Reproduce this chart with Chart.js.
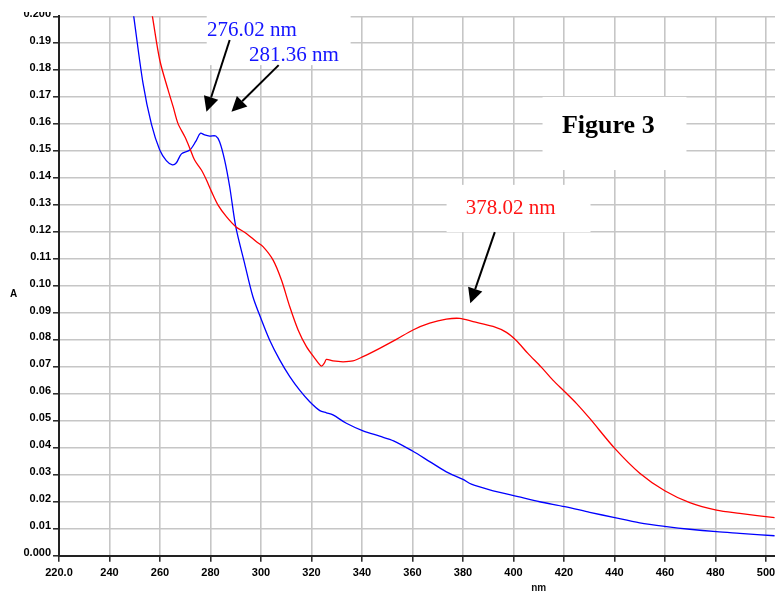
<!DOCTYPE html>
<html>
<head>
<meta charset="utf-8">
<script src="https://cdn.jsdelivr.net/npm/chart.js@4.4.1/dist/chart.umd.min.js"></script>
<style>
  html, body { margin: 0; padding: 0; background: #fff; overflow: hidden; width: 775px; height: 595px; }
  #frame { position: absolute; left: 0; top: 12px; width: 775px; height: 583px; overflow: hidden; background: #fff; }
  #spectrum { position: absolute; left: 0; top: -32px; }
</style>
</head>
<body>
<div id="frame"><canvas id="spectrum" width="1040" height="620"></canvas></div>
<script>
// UV-Vis absorbance spectra: wavelength (nm) and absorbance (A)
const blueWavelength = [246, 249.6, 253.3, 256.6, 259.9, 262.5, 264.9, 266.5, 268.5, 271.8, 274.1, 276.0, 277.7, 279.7, 282.1, 283.6, 285.6, 287.6, 290.0, 293.5, 296.8, 300.2, 303.4, 307.4, 311.4, 315.3, 319.3, 323.3, 325.9, 328.5, 333.8, 340.4, 347.0, 352.5, 360.0, 366.8, 373.4, 380.0, 383.3, 390.6, 401.8, 410.4, 420.3, 430.2, 440.1, 450.0, 460.6, 469.8, 480.4, 489.6, 503.4];
const blueAbsorbance = [0.2245, 0.200, 0.175, 0.160, 0.1504, 0.1465, 0.1449, 0.1457, 0.149, 0.1504, 0.1535, 0.1566, 0.156, 0.1556, 0.1556, 0.1535, 0.1467, 0.1368, 0.122, 0.1084, 0.0960, 0.0874, 0.080, 0.0726, 0.0664, 0.0614, 0.0571, 0.0538, 0.0530, 0.0522, 0.0491, 0.0463, 0.0443, 0.0426, 0.0388, 0.0349, 0.0311, 0.0283, 0.0265, 0.0244, 0.0219, 0.0200, 0.0182, 0.0161, 0.0141, 0.0122, 0.0108, 0.0098, 0.0089, 0.0083, 0.0074];

const redWavelength = [254, 257.0, 259.9, 263.2, 265.2, 267.1, 269.8, 271.8, 273.7, 276.4, 278.4, 280.4, 283.0, 286.3, 290.0, 294.2, 298.2, 300.8, 304.8, 308.1, 311.4, 314.7, 318.0, 321.3, 323.9, 325.2, 325.9, 328.5, 332.5, 336.4, 340.4, 347.0, 353.6, 360.2, 366.8, 373.4, 378.7, 384.0, 391.9, 397.2, 401.2, 405.7, 411.0, 415.6, 420.3, 424.9, 430.2, 440.1, 450.0, 459.9, 469.8, 480.4, 489.6, 503.4];
const redAbsorbance = [0.2165, 0.200, 0.1838, 0.1727, 0.1665, 0.1603, 0.1554, 0.1511, 0.1467, 0.1430, 0.1393, 0.1350, 0.1300, 0.1257, 0.1220, 0.1195, 0.1164, 0.1146, 0.1096, 0.1022, 0.0923, 0.0837, 0.0775, 0.0732, 0.0703, 0.0716, 0.0728, 0.0722, 0.0719, 0.0722, 0.0738, 0.0769, 0.0802, 0.0837, 0.0862, 0.0877, 0.0880, 0.0868, 0.0850, 0.0828, 0.0797, 0.0750, 0.0699, 0.0651, 0.0608, 0.0565, 0.0509, 0.0398, 0.0306, 0.0241, 0.0197, 0.0169, 0.0157, 0.0141];

// axes
const xRange = [220, 600];
const xStep = 20;
const yRange = [0, 0.2];
const yStep = 0.01;
const xTitle = 'nm';
const yTitle = 'A';

// callout texts
const peakLabels = ['276.02 nm', '281.36 nm', '378.02 nm'];
const figureTitle = 'Figure 3';

const toPoints = (xs, ys) => xs.map((v, i) => ({ x: v, y: ys[i] }));

// callout layout, in axis units
const panels = [
  { x0: 278.5, x1: 335.5, y0: 0.2042, y1: 0.1819 },
  { x0: 373.5, x1: 430.5, y0: 0.1375, y1: 0.1200 },
  { x0: 411.5, x1: 468.5, y0: 0.1701, y1: 0.1430 }
];
const texts = [
  { text: peakLabels[0], x: 278.6, y: 0.1927, color: '#1414ff', font: '21px "Liberation Serif"' },
  { text: peakLabels[1], x: 295.2, y: 0.1835, color: '#1414ff', font: '21px "Liberation Serif"' },
  { text: peakLabels[2], x: 381.1, y: 0.1266, color: '#ff1414', font: '21px "Liberation Serif"' },
  { text: figureTitle, x: 419.2, y: 0.1566, color: '#000', font: 'bold 26px "Liberation Serif"' }
];
const arrows = [
  { from: [287.6, 0.1912], to: [278.4, 0.1646] },
  { from: [307.0, 0.1819], to: [288.3, 0.1646] },
  { from: [392.6, 0.1200], to: [382.9, 0.0936] }
];

function drawArrow(ctx, x0, y0, x1, y1) {
  const ang = Math.atan2(y1 - y0, x1 - x0);
  const len = 15, half = 7.5;
  const bx = x1 - len * Math.cos(ang), by = y1 - len * Math.sin(ang);
  ctx.strokeStyle = '#000';
  ctx.fillStyle = '#000';
  ctx.lineWidth = 2;
  ctx.beginPath();
  ctx.moveTo(x0, y0);
  ctx.lineTo(bx, by);
  ctx.stroke();
  ctx.beginPath();
  ctx.moveTo(x1, y1);
  ctx.lineTo(bx + half * Math.sin(ang), by - half * Math.cos(ang));
  ctx.lineTo(bx - half * Math.sin(ang), by + half * Math.cos(ang));
  ctx.closePath();
  ctx.fill();
}

const callouts = {
  id: 'callouts',
  afterDatasetsDraw(chart) {
    const { ctx, scales: { x, y }, chartArea } = chart;
    const px = v => x.getPixelForValue(v);
    const py = v => y.getPixelForValue(v);
    ctx.save();
    ctx.fillStyle = '#fff';
    panels.forEach(p => {
      const a = px(p.x0), b = px(p.x1), c = py(p.y0), d = py(p.y1);
      ctx.fillRect(a, c, b - a, d - c);
    });
    ctx.textAlign = 'left';
    ctx.textBaseline = 'alphabetic';
    texts.forEach(t => {
      ctx.font = t.font;
      ctx.fillStyle = t.color;
      ctx.fillText(t.text, px(t.x), py(t.y));
    });
    arrows.forEach(a => drawArrow(ctx, px(a.from[0]), py(a.from[1]), px(a.to[0]), py(a.to[1])));
    // horizontal y-axis title
    ctx.font = 'bold 10px "Liberation Sans"';
    ctx.fillStyle = '#000';
    ctx.textAlign = 'center';
    ctx.textBaseline = 'middle';
    ctx.fillText(yTitle, 13.5, (chartArea.top + chartArea.bottom) / 2 + 8);
    ctx.restore();
  }
};

const gridColor = '#c6c6c6';
const axisColor = '#222';
const tickFont = { family: '"Liberation Sans", Arial, sans-serif', size: 11, weight: 'bold' };

new Chart(document.getElementById('spectrum'), {
  type: 'line',
  data: {
    datasets: [
      {
        data: toPoints(redWavelength, redAbsorbance),
        borderColor: '#ff0000',
        borderWidth: 1.3,
        pointRadius: 0,
        tension: 0.3,
        fill: false
      },
      {
        data: toPoints(blueWavelength, blueAbsorbance),
        borderColor: '#0000ff',
        borderWidth: 1.3,
        pointRadius: 0,
        tension: 0.3,
        fill: false
      }
    ]
  },
  options: {
    responsive: false,
    animation: false,
    devicePixelRatio: 1,
    layout: { padding: { left: 0, top: 36.3, right: 21.5, bottom: 4.3 } },
    plugins: { legend: { display: false }, tooltip: { enabled: false } },
    scales: {
      x: {
        type: 'linear',
        min: xRange[0],
        max: xRange[1],
        afterFit: s => { s.height = 40; },
        grid: { color: gridColor, lineWidth: 1.6, tickLength: 6, tickColor: axisColor, tickWidth: 1.5 },
        border: { color: axisColor, width: 2 },
        ticks: {
          stepSize: xStep,
          autoSkip: false,
          maxRotation: 0,
          padding: 4.4,
          color: '#000',
          font: tickFont,
          callback: v => (v === xRange[0] ? v.toFixed(1) : String(v))
        },
        title: {
          display: true,
          text: xTitle,
          color: '#111',
          font: { family: '"Liberation Sans", Arial, sans-serif', size: 10, weight: 'bold' },
          padding: { top: 0, bottom: 1.7 }
        }
      },
      y: {
        type: 'linear',
        min: yRange[0],
        max: yRange[1],
        afterFit: s => { s.width = 59; },
        grid: { color: gridColor, lineWidth: 1.6, tickLength: 6, tickColor: axisColor, tickWidth: 1.5 },
        border: { color: axisColor, width: 2 },
        ticks: {
          stepSize: yStep,
          padding: 2,
          labelOffset: -2.5,
          color: '#000',
          font: tickFont,
          callback: v => (Math.abs(v - yRange[0]) < 1e-9 || Math.abs(v - yRange[1]) < 1e-9) ? v.toFixed(3) : v.toFixed(2)
        }
      }
    }
  },
  plugins: [callouts]
});
</script>
</body>
</html>
